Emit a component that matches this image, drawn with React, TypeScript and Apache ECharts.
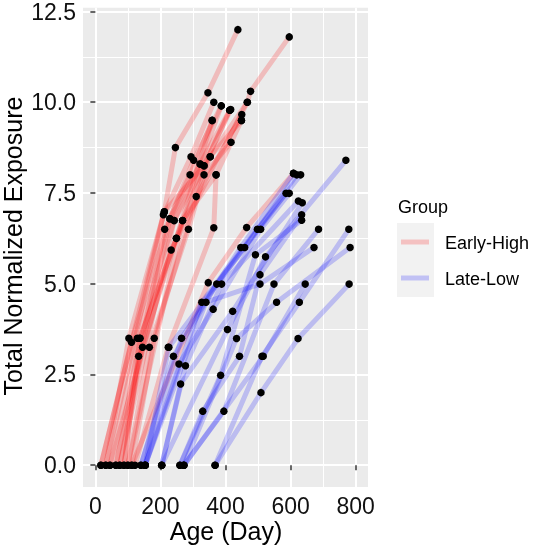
import React, { useEffect, useRef } from "react";
import * as echarts from "echarts";

// Tick labels
const xTicks = [0, 200, 400, 600, 800];
const yTicks = [0, 2.5, 5, 7.5, 10, 12.5];

// Each subject: list of [age (day), total normalized exposure]
const earlyHigh: number[][][] = [
  [[32, 0], [103, 3.5], [212, 6.98], [246, 8.75], [346, 10.26], [438, 12.0]],
  [[17, 0], [209, 6.9], [294, 8.5], [364, 10.0]],
  [[17, 0], [111, 3.39], [229, 6.79], [302, 8.4], [387, 9.9]],
  [[45, 0], [129, 3.5], [242, 6.74], [322, 8.3], [413, 9.78]],
  [[63, 0], [137, 3.5], [268, 6.74], [334, 8.25], [416, 9.8]],
  [[75, 0], [145, 3.25], [249, 6.25], [353, 8.5], [449, 9.5]],
  [[88, 0], [133, 3.0], [213, 6.5], [291, 8.0], [359, 9.5]],
  [[100, 0], [166, 3.25], [286, 6.5], [334, 8.0], [417, 8.9]],
  [[112, 0], [181, 3.5], [310, 7.4], [450, 9.66]],
  [[45, 0], [233, 5.93], [467, 10.0], [477, 10.3], [596, 11.8]],
  [[122, 0], [224, 3.25], [364, 6.54], [371, 8.0]],
  [[112, 0], [347, 5.03], [465, 6.55], [609, 8.04]],
  [[32, 0], [212, 6.98], [334, 8.25], [413, 9.78]],
  [[63, 0], [229, 6.79], [322, 8.3], [387, 9.9]],
  [[75, 0], [242, 6.74], [353, 8.5], [467, 10.0]],
  [[100, 0], [268, 6.74], [371, 8.0], [449, 9.5]],
  [[88, 0], [137, 3.5], [249, 6.25], [359, 9.5]],
];

const lateLow: number[][][] = [
  [[140, 0], [240, 3.0], [373, 4.99], [586, 7.49]],
  [[140, 0], [265, 3.5], [447, 6.0], [609, 8.04]],
  [[153, 0], [226, 3.25], [459, 6.0], [619, 8.0]],
  [[153, 0], [327, 4.49], [498, 6.5], [631, 8.0]],
  [[153, 0], [257, 2.79], [362, 4.3], [508, 6.5], [596, 7.49]],
  [[204, 0], [277, 2.74], [388, 4.99], [624, 7.28]],
  [[204, 0], [262, 2.24], [422, 4.24], [636, 7.23]],
  [[260, 0], [330, 1.49], [443, 3.0], [506, 5.25], [634, 6.9]],
  [[272, 0], [395, 1.49], [549, 4.99], [686, 6.5]],
  [[368, 0], [509, 2.0], [623, 3.49], [780, 4.99]],
  [[260, 0], [385, 2.48], [492, 5.8], [634, 6.75]],
  [[272, 0], [434, 3.49], [557, 4.49], [783, 6.0]],
  [[368, 0], [512, 3.0], [627, 4.49], [779, 6.5]],
  [[204, 0], [406, 3.74], [523, 5.74], [770, 8.4]],
  [[153, 0], [340, 4.49], [506, 4.99], [672, 6.0]],
  [[272, 0], [516, 3.0], [645, 4.99]],
];

const groupNames = ["Early-High", "Late-Low"];
const groupColors = ["rgba(255,0,0,0.2)", "rgba(0,0,255,0.2)"];

export default function App() {
  const ref = useRef<HTMLDivElement>(null);
  useEffect(() => {
    const chart = echarts.init(ref.current!, null, { renderer: "svg" });
    const font = "'Liberation Sans', Arial, Helvetica, sans-serif";
    const mkLines = (subjects: number[][][], color: string) =>
      subjects.map((s) => ({
        type: "line",
        data: s,
        symbol: "none",
        silent: true,
        emphasis: { disabled: true },
        color,
        lineStyle: { color, width: 5, join: "round", cap: "butt" },
        z: 2,
      }));
    const allPoints = [...earlyHigh, ...lateLow].flat();
    const axisCommon = {
      type: "value",
      axisLine: { show: false },
      splitLine: { show: true, lineStyle: { color: "#ffffff", width: 2 } },
      minorTick: { show: false, splitNumber: 2 },
      minorSplitLine: { show: true, lineStyle: { color: "#ffffff", width: 1 } },
    };
    chart.setOption({
      animation: false,
      grid: {
        left: 83,
        top: 6,
        width: 285,
        height: 481,
        show: true,
        backgroundColor: "#EBEBEB",
        borderWidth: 0,
      },
      xAxis: {
        ...axisCommon,
        min: -38,
        max: 838,
        minInterval: 200,
        maxInterval: 200,
        axisTick: {
          show: true,
          length: 5,
          customValues: xTicks,
          lineStyle: { color: "#333333", width: 1.5 },
        },
        axisLabel: {
          customValues: xTicks,
          fontSize: 23,
          fontFamily: font,
          color: "#111111",
          margin: 7,
        },
      },
      yAxis: {
        ...axisCommon,
        min: -0.6,
        max: 12.6,
        minInterval: 2.5,
        maxInterval: 2.5,
        axisTick: {
          show: true,
          length: 5,
          customValues: yTicks,
          lineStyle: { color: "#333333", width: 1.5 },
        },
        axisLabel: {
          customValues: yTicks,
          fontSize: 23,
          fontFamily: font,
          color: "#111111",
          margin: 7,
          formatter: (v: number) => v.toFixed(1),
        },
      },
      series: [
        ...mkLines(earlyHigh, groupColors[0]),
        ...mkLines(lateLow, groupColors[1]),
        {
          type: "scatter",
          data: allPoints,
          symbolSize: 7.5,
          silent: true,
          itemStyle: { color: "#000000", opacity: 1 },
          z: 5,
        },
      ],
      graphic: [
        {
          type: "text",
          x: 226,
          y: 531,
          style: {
            text: "Age (Day)",
            fontSize: 25,
            fontFamily: font,
            fill: "#000",
            align: "center",
            verticalAlign: "middle",
          },
        },
        {
          type: "text",
          x: 13,
          y: 246,
          rotation: Math.PI / 2,
          style: {
            text: "Total Normalized Exposure",
            fontSize: 25,
            fontFamily: font,
            fill: "#000",
            align: "center",
            verticalAlign: "middle",
          },
        },
        {
          type: "text",
          x: 398,
          y: 207,
          style: {
            text: "Group",
            fontSize: 18,
            fontFamily: font,
            fill: "#000",
            align: "left",
            verticalAlign: "middle",
          },
        },
        {
          type: "rect",
          shape: { x: 397, y: 223, width: 37, height: 74 },
          style: { fill: "#F2F2F2" },
        },
        ...groupNames.flatMap((name, i) => [
          {
            type: "line",
            shape: { x1: 401, y1: 242 + i * 36, x2: 429, y2: 242 + i * 36 },
            style: { stroke: groupColors[i], lineWidth: 5 },
          },
          {
            type: "text",
            x: 445,
            y: 243 + i * 36,
            style: {
              text: name,
              fontSize: 18,
              fontFamily: font,
              fill: "#000",
              align: "left",
              verticalAlign: "middle",
            },
          },
        ]),
      ],
    });
    return () => chart.dispose();
  }, []);
  return (
    <div
      ref={ref}
      style={{ position: "fixed", left: 0, top: 0, width: 533, height: 547 }}
    />
  );
}
